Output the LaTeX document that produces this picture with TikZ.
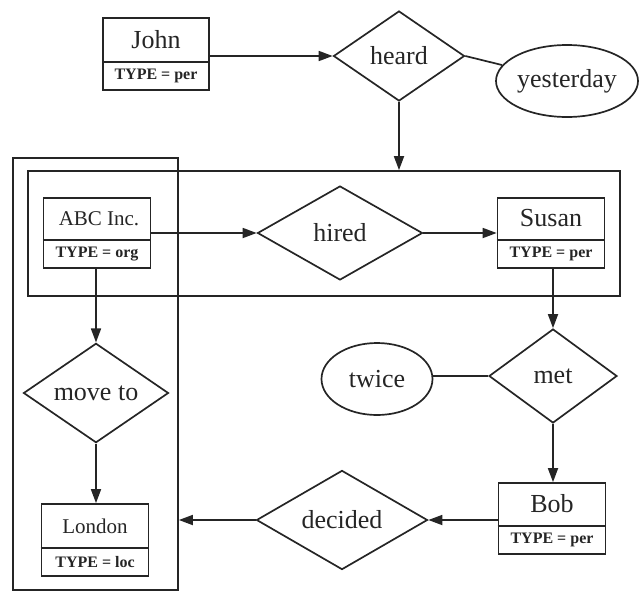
\documentclass[tikz,border=0pt]{standalone}
\usepackage{fontspec}
\setmainfont{Liberation Serif}
\usetikzlibrary{shapes.geometric,arrows.meta}
\definecolor{ink}{HTML}{252525}
\begin{document}
\begin{tikzpicture}[x=1pt,y=-1pt,line width=1.7pt,draw=ink,text=ink,
  ent/.style={draw,rectangle,inner sep=0pt,minimum width=107pt},
  nm/.style={inner sep=0pt,font=\fontsize{26}{28}\selectfont},
  nms/.style={inner sep=0pt,font=\fontsize{21}{24}\selectfont},
  ty/.style={inner sep=0pt,font=\fontsize{16}{18}\selectfont\bfseries},
  rel/.style={draw,diamond,inner sep=0pt,font=\fontsize{26}{28}\selectfont},
  attr/.style={draw,ellipse,inner sep=0pt,font=\fontsize{26}{28}\selectfont},
  grpbox/.style={draw,rectangle,inner sep=0pt},
  arr/.style={-{Triangle[length=14pt,width=10pt]}}]
\useasboundingbox (0,0) rectangle (639,592);

% group boxes
\node[grpbox,minimum width=592pt,minimum height=125pt] (grp) at (324,233.5) {};
\node[grpbox,minimum width=165pt,minimum height=432pt] (vbox) at (95.5,374) {};

% John
\node[ent,minimum width=106pt,minimum height=72pt] (john) at (156,54) {};
\draw (john.west |- 0,62) -- (john.east |- 0,62);
\node[nm] (johnN) at (156,40) {John};
\node[ty] (johnT) at (156,76) {TYPE = per};

% ABC Inc.
\node[ent,minimum height=70pt] (abc) at (97,233) {};
\draw (abc.west |- 0,240) -- (abc.east |- 0,240);
\node[nms] (abcN) at (99,219) {ABC Inc.};
\node[ty] (abcT) at (97,254) {TYPE = org};

% Susan
\node[ent,minimum height=70pt] (susan) at (551,233) {};
\draw (susan.west |- 0,240) -- (susan.east |- 0,240);
\node[nm] (susanN) at (551,218) {Susan};
\node[ty] (susanT) at (551,254) {TYPE = per};

% Bob
\node[ent,minimum height=71pt] (bob) at (552,518.5) {};
\draw (bob.west |- 0,526) -- (bob.east |- 0,526);
\node[nm] (bobN) at (552,504) {Bob};
\node[ty] (bobT) at (552,540) {TYPE = per};

% London
\node[ent,minimum height=72pt] (london) at (95,540) {};
\draw (london.west |- 0,548) -- (london.east |- 0,548);
\node[nms] (londonN) at (95,526) {London};
\node[ty] (londonT) at (95,562) {TYPE = loc};

% relations
\node[rel,minimum width=131pt,minimum height=90pt] (heard) at (399,56) {heard};
\node[rel,minimum width=165pt,minimum height=94pt] (hired) at (340,233) {hired};
\node[rel,minimum width=128pt,minimum height=94pt] (met) at (553,376) {met};
\node[rel,minimum width=171pt,minimum height=94pt] (decided) at (342,520) {decided};
\node[rel,minimum width=145pt,minimum height=93pt] (moveto) at (96,393) {move to};

% attributes
\node[attr,minimum width=142pt,minimum height=72pt] (yesterday) at (567,81) {yesterday};
\node[attr,minimum width=111pt,minimum height=72pt] (twice) at (377,379) {twice};

% connectors
\draw[arr] (john.east |- heard.west) -- (heard.west);
\draw (heard.east) -- (yesterday);
\draw[arr] (heard.south) -- (heard.south |- grp.north);
\draw[arr] (abc.east |- hired.west) -- (hired.west);
\draw[arr] (hired.east) -- (hired.east -| susan.west);
\draw[arr] (met.north |- susan.south) -- (met.north);
\draw (met.west) -- (twice.east |- met.west);
\draw[arr] (met.south) -- (met.south |- bob.north);
\draw[arr] (bob.west |- decided.east) -- (decided.east);
\draw[arr] (decided.west) -- (decided.west -| vbox.east);
\draw[arr] (moveto.north |- abc.south) -- (moveto.north);
\draw[arr] (moveto.south) -- (moveto.south |- london.north);
\end{tikzpicture}
\end{document}
